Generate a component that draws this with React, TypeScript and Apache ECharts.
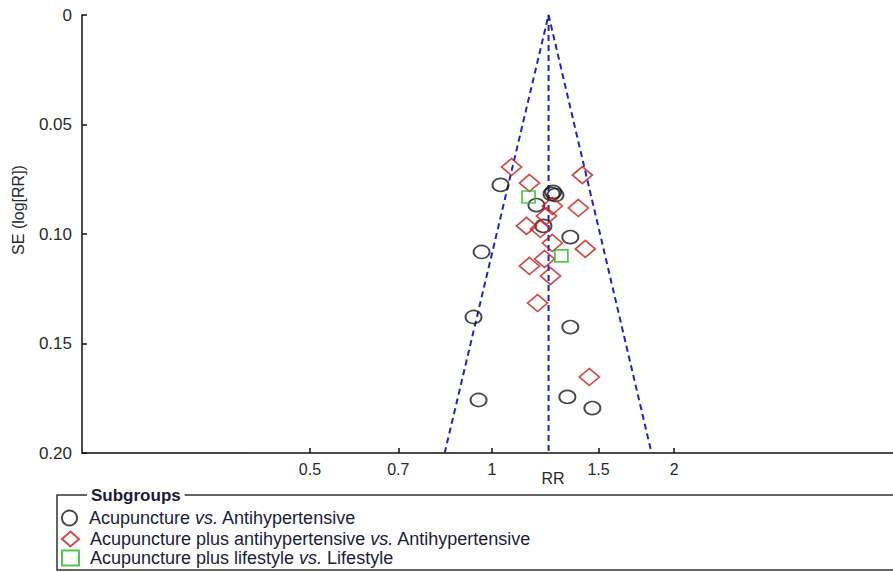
import React, { useEffect, useRef } from "react";
import * as echarts from "echarts";

// Acupuncture vs. Antihypertensive (circles)
const acuRR = [1.033, 1.254, 1.262, 1.273, 1.184, 1.216, 1.347, 0.961, 0.932, 1.347, 0.95, 1.332, 1.465];
const acuSE = [0.0776, 0.0817, 0.0808, 0.0822, 0.0868, 0.0963, 0.1014, 0.1082, 0.1379, 0.1425, 0.1758, 0.1744, 0.1795];

// Acupuncture plus antihypertensive vs. Antihypertensive (diamonds)
const plusRR = [1.077, 1.41, 1.153, 1.258, 1.389, 1.23, 1.14, 1.202, 1.258, 1.426, 1.153, 1.221, 1.249, 1.189, 1.448];
const plusSE = [0.0694, 0.0731, 0.0767, 0.0872, 0.0881, 0.0918, 0.0963, 0.0977, 0.1041, 0.1068, 0.1146, 0.1114, 0.1192, 0.1315, 0.1653];

// Acupuncture plus lifestyle vs. Lifestyle (squares)
const lifeRR = [1.149, 1.302];
const lifeSE = [0.0831, 0.11];

// Funnel
const pooledRR = 1.24;
const funnelLimitsRR = [0.835, 1.835]; // at SE = funnelMaxSE
const funnelMaxSE = 0.2;

// Axes
const xTickValues = [0.5, 0.7, 1, 1.5, 2];
const xTickLabels = ["0.5", "0.7", "1", "1.5", "2"];
const xRange = [0.21, 4.6];
const yTicks = [0, 0.05, 0.1, 0.15, 0.2];

const seriesNames = [
  "Acupuncture vs. Antihypertensive",
  "Acupuncture plus antihypertensive vs. Antihypertensive",
  "Acupuncture plus lifestyle vs. Lifestyle",
];

const FONT = "'Liberation Sans', Arial, sans-serif";
const LEGEND_COLOR = "#1c1c3a";

function pts(rr: number[], se: number[]) {
  return rr.map((r, i) => [Math.log(r), se[i]]);
}

export default function App() {
  const ref = useRef<HTMLDivElement>(null);
  useEffect(() => {
    if (!ref.current) return;
    const chart = echarts.init(ref.current, undefined, { renderer: "svg" });
    const lnTicks = xTickValues.map((v) => Math.log(v));
    const lp = Math.log(pooledRR);
    const dashed = {
      color: "#2222cc",
      width: 2,
      type: [6, 4] as any,
    };
    const legendFmt = (name: string) => {
      const parts = name.split(" vs. ");
      return `{n|${parts[0]} }{i|vs.}{n| ${parts[1]}}`;
    };
    const legendTops = [504, 525, 544];
    const legends = seriesNames.map((nm, i) => ({
      orient: "vertical",
      left: 56,
      top: legendTops[i],
      itemWidth: 17,
      itemHeight: 15,
      data: [nm],
      formatter: legendFmt,
      selectedMode: false,
      textStyle: {
        padding: [0, 0, 0, 6],
        rich: {
          n: { fontFamily: FONT, fontSize: 18, color: LEGEND_COLOR },
          i: { fontFamily: FONT, fontSize: 18, fontStyle: "italic", color: LEGEND_COLOR },
        },
      },
    }));
    chart.setOption({
      animation: false,
      backgroundColor: "#ffffff",
      grid: { left: 82, right: 0, top: 15, bottom: 119, containLabel: false },
      xAxis: {
        type: "value",
        min: Math.log(xRange[0]),
        max: Math.log(xRange[1]),
        axisLine: { show: true, onZero: false, lineStyle: { color: "#111", width: 1.5 } },
        axisTick: {
          show: true,
          inside: true,
          length: 5,
          customValues: lnTicks,
          lineStyle: { color: "#111", width: 1.5 },
        },
        axisLabel: {
          customValues: lnTicks,
          margin: 8,
          fontFamily: FONT,
          fontSize: 16,
          color: "#2a2a2a",
          formatter: (v: number) => {
            let best = 0;
            lnTicks.forEach((t, i) => {
              if (Math.abs(t - v) < Math.abs(lnTicks[best] - v)) best = i;
            });
            return xTickLabels[best];
          },
        },
        splitLine: { show: false },
      },
      yAxis: {
        type: "value",
        inverse: true,
        min: yTicks[0],
        max: yTicks[yTicks.length - 1],
        interval: 0.05,
        axisLine: { show: true, onZero: false, lineStyle: { color: "#111", width: 1.5 } },
        axisTick: { show: true, inside: true, length: 5, lineStyle: { color: "#111", width: 1.5 } },
        axisLabel: {
          margin: 10,
          fontFamily: FONT,
          fontSize: 17,
          color: "#2a2a2a",
          formatter: (v: number) => (v === 0 ? "0" : v.toFixed(2)),
        },
        splitLine: { show: false },
      },
      legend: legends,
      graphic: [
        {
          type: "rect",
          silent: true,
          shape: { x: 57, y: 495, width: 900, height: 75 },
          style: { fill: "none", stroke: "#333", lineWidth: 1.5 },
          z: 0,
        },
        {
          type: "text",
          silent: true,
          x: 87,
          y: 495,
          style: {
            text: "Subgroups",
            fontFamily: FONT,
            fontSize: 17,
            fontWeight: "bold",
            fill: LEGEND_COLOR,
            backgroundColor: "#fff",
            padding: [0, 4],
            verticalAlign: "middle",
            align: "left",
          },
          z: 10,
        },
        {
          type: "text",
          silent: true,
          x: 18,
          y: 210,
          rotation: Math.PI / 2,
          style: {
            text: "SE (log[RR])",
            fontFamily: FONT,
            fontSize: 16,
            fill: "#2a2a2a",
            align: "center",
            verticalAlign: "middle",
          },
        },
        {
          type: "text",
          silent: true,
          x: 553,
          y: 478,
          style: {
            text: "RR",
            fontFamily: FONT,
            fontSize: 16,
            fill: "#2a2a2a",
            align: "center",
            verticalAlign: "middle",
          },
        },
      ],
      series: [
        {
          type: "line",
          silent: true,
          symbol: "none",
          data: [
            [Math.log(funnelLimitsRR[0]), funnelMaxSE],
            [lp, 0],
            [Math.log(funnelLimitsRR[1]), funnelMaxSE],
          ],
          lineStyle: dashed,
          z: 1,
        },
        {
          type: "line",
          silent: true,
          symbol: "none",
          data: [
            [lp, 0],
            [lp, funnelMaxSE],
          ],
          lineStyle: dashed,
          z: 1,
        },
        {
          name: seriesNames[0],
          type: "scatter",
          symbol: "circle",
          symbolSize: [16, 13],
          data: pts(acuRR, acuSE),
          itemStyle: { color: "rgba(0,0,0,0)", borderColor: "#1a1a1a", borderWidth: 1.8 },
          z: 3,
        },
        {
          name: seriesNames[1],
          type: "scatter",
          symbol: "diamond",
          symbolSize: [20, 17],
          data: pts(plusRR, plusSE),
          itemStyle: { color: "rgba(0,0,0,0)", borderColor: "#cc1a1a", borderWidth: 1.7 },
          z: 3,
        },
        {
          name: seriesNames[2],
          type: "scatter",
          symbol: "rect",
          symbolSize: [13, 12],
          data: pts(lifeRR, lifeSE),
          itemStyle: { color: "rgba(0,0,0,0)", borderColor: "#22bb22", borderWidth: 1.7 },
          z: 3,
        },
      ],
    });
    return () => chart.dispose();
  }, []);
  return (
    <div
      ref={ref}
      style={{ position: "absolute", left: 0, top: 0, width: 893, height: 572 }}
    />
  );
}
